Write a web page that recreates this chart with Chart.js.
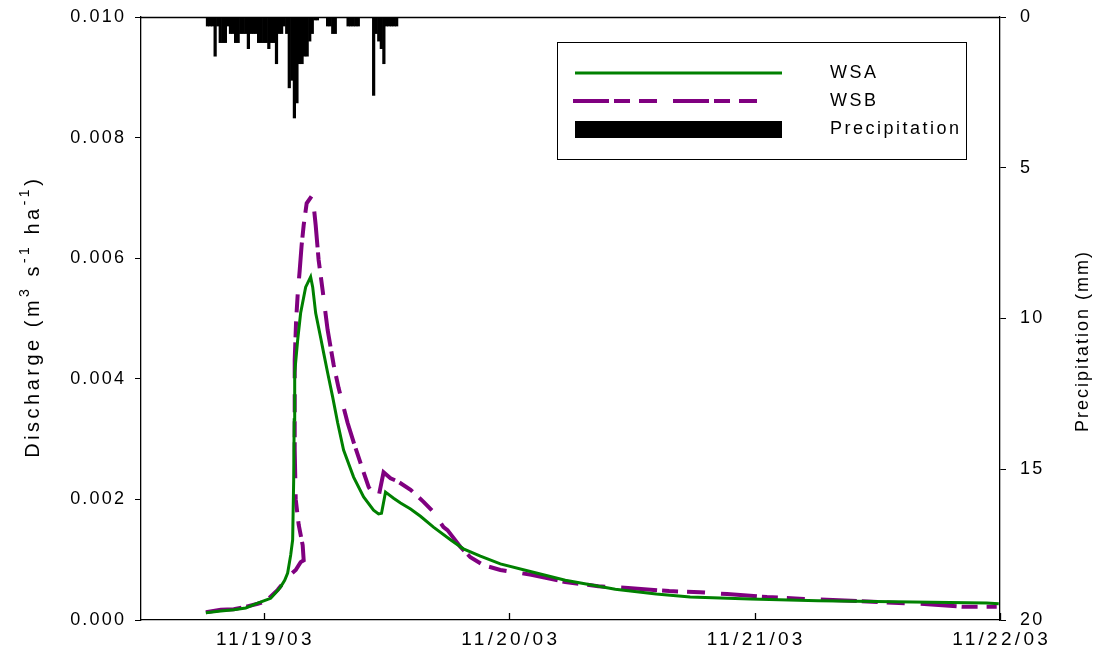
<!DOCTYPE html>
<html>
<head>
<meta charset="utf-8">
<script src="https://cdn.jsdelivr.net/npm/chart.js@4.4.0/dist/chart.umd.min.js"></script>
<style>
  html, body { margin: 0; padding: 0; background: #fff; }
  #wrap { width: 1106px; height: 661px; }
</style>
</head>
<body>
<div id="wrap"><canvas id="c" width="1106" height="661"></canvas></div>
<script>
// Time is in hours relative to 11/19/03 00:00.
const tickHours = [0, 24, 48, 72];
const tickLabels = ['11/19/03', '11/20/03', '11/21/03', '11/22/03'];

// Discharge, WSA (m3 s-1 ha-1)
const wsaHours = [-5.66, -4.2, -2.93, -1.76, -0.59, 0.2, 0.68, 1.17, 1.66, 2.05, 2.34, 2.64, 2.83, 2.93, 2.98,
  3.03, 3.32, 3.61, 4.1, 4.59, 4.79, 5.08, 5.57, 5.86, 6.25, 6.74, 7.23, 7.81, 8.79, 9.77, 10.74, 11.23, 11.52,
  11.91, 12.7, 13.38, 14.36, 15.33, 16.6, 18.26, 19.53, 21.19, 23.14, 26.17, 29.49, 34.38, 38.38, 41.7, 47.56,
  54.2, 63.48, 70.7, 71.88];
const wsaQ = [0.00012, 0.00015, 0.00017, 0.0002, 0.00028, 0.00033, 0.00036, 0.00045, 0.00055, 0.00066, 0.00078,
  0.00108, 0.00133, 0.00232, 0.00332, 0.0041, 0.00464, 0.00509, 0.00552, 0.00569, 0.00552, 0.00509, 0.00468,
  0.00443, 0.0041, 0.0037, 0.00327, 0.00282, 0.00237, 0.00204, 0.00182, 0.00176, 0.00177, 0.00212, 0.00202,
  0.00194, 0.00184, 0.00172, 0.00154, 0.00133, 0.00118, 0.00106, 0.00093, 0.0008, 0.00066, 0.00051, 0.00043,
  0.00038, 0.00035, 0.00032, 0.0003, 0.00028, 0.00027];

// Discharge, WSB (m3 s-1 ha-1)
const wsbHours = [-5.66, -4.2, -2.93, -1.76, -0.59, 0.2, 1.37, 2.34, 3.13, 3.61, 3.91, 3.81, 3.42, 3.13, 3.03,
  3.03, 3.03, 3.17, 3.32, 3.52, 3.71, 3.91, 4.2, 4.69, 4.88, 5.08, 5.37, 5.76, 6.25, 6.84, 7.32, 8.2, 8.79, 9.47,
  10.25, 10.74, 11.23, 11.72, 12.4, 13.09, 14.36, 15.63, 16.6, 17.58, 17.97, 19.24, 20.21, 21.48, 23.14, 26.17,
  29.49, 32.71, 35.64, 39.65, 42.68, 45.31, 49.22, 52.83, 57.42, 62.11, 64.06, 68.36, 71.68];
const wsbQ = [0.00013, 0.00017, 0.00018, 0.00022, 0.00027, 0.00031, 0.0005, 0.00071, 0.00083, 0.00096, 0.00099,
  0.00124, 0.00158, 0.002, 0.00282, 0.00365, 0.00431, 0.00497, 0.00539, 0.0058, 0.00622, 0.00655, 0.00691,
  0.00703, 0.00688, 0.00655, 0.00597, 0.00547, 0.00481, 0.00423, 0.00385, 0.00327, 0.00295, 0.0026, 0.00221,
  0.00207, 0.00204, 0.00245, 0.00235, 0.0023, 0.00216, 0.00196, 0.00179, 0.00154, 0.00149, 0.00121, 0.00104,
  0.00091, 0.00083, 0.00075, 0.00063, 0.00056, 0.00053, 0.00048, 0.00046, 0.00043, 0.00038, 0.00035, 0.00032,
  0.00028, 0.00027, 0.00022, 0.00022];

// Precipitation (mm per 15 min), first interval centred at 11/18/03 18:30
const precipStartHour = -5.5;
const precipStepHours = 0.25;
const precipMm = [0.3, 0.3, 0.3, 1.3, 0.3, 0.85, 0.85, 0.85, 0.3, 0.55, 0.55, 0.85, 0.85, 0.55, 0.55, 0.55,
  1.05, 0.55, 0.55, 0.55, 0.85, 0.85, 0.85, 0.85, 1.05, 0.85, 0.85, 1.55, 0.55, 0.55, 0.3, 0.55, 2.35, 2.1, 3.35,
  2.85, 1.55, 1.55, 1.3, 1.3, 0.8, 0.55, 0.1, 0.1, 0, 0, 0, 0.3, 0.3, 0.55, 0.55, 0, 0, 0, 0, 0.3, 0.3, 0.3,
  0.3, 0.3, 0, 0, 0, 0, 0, 2.6, 0.55, 0.8, 1.05, 1.55, 0.3, 0.3, 0.3, 0.3, 0.3];

// Axis title pieces: [text, superscript?]
const leftTitle = [['Discharge (m', false], ['3', true], [' s', false], ['-1', true], [' ha', false], ['-1', true], [')', false]];
const rightTitle = [['Precipitation (mm)', false]];

const GREEN = 'rgb(0,128,0)';
const PURPLE = 'rgb(128,0,128)';
const FONT = '"Liberation Sans", Arial, sans-serif';
const DASH = [36, 5, 16, 9, 18, 16];

const pairs = (xs, ys) => xs.map((x, i) => ({ x: x, y: ys[i] }));
const precipData = precipMm.map((v, i) => ({ x: precipStartHour + i * precipStepHours, y: v }));

// Draw a string with open letter spacing; align is 'left', 'right' or 'center'
function spacedText(ctx, text, x, y, size, spacing, align) {
  ctx.font = size + 'px ' + FONT;
  ctx.letterSpacing = spacing + 'px';
  const w = ctx.measureText(text).width - spacing;
  let x0 = x;
  if (align === 'right') x0 = x - w;
  else if (align === 'center') x0 = x - w / 2;
  ctx.textAlign = 'left';
  ctx.fillText(text, x0, y);
  ctx.letterSpacing = '0px';
}

// Rotated (bottom-to-top) title built from normal and superscript pieces
function verticalTitle(ctx, pieces, cx, cy, size, supSize, spacing) {
  ctx.save();
  ctx.translate(cx, cy);
  ctx.rotate(-Math.PI / 2);
  ctx.textBaseline = 'middle';
  ctx.textAlign = 'left';
  ctx.letterSpacing = spacing + 'px';
  const widths = pieces.map(([t, sup]) => {
    ctx.font = (sup ? supSize : size) + 'px ' + FONT;
    return ctx.measureText(t).width;
  });
  const total = widths.reduce((a, b) => a + b, 0) - spacing;
  let x = -total / 2;
  pieces.forEach(([t, sup], i) => {
    ctx.font = (sup ? supSize : size) + 'px ' + FONT;
    ctx.fillText(t, x, sup ? -size * 0.38 : 0);
    x += widths[i];
  });
  ctx.restore();
}

// Box around the plot area, inward time ticks and all axis text
const axesPlugin = {
  id: 'axesText',
  afterDraw(chart) {
    const { ctx, chartArea: a, scales } = chart;
    ctx.save();
    ctx.strokeStyle = '#000';
    ctx.lineWidth = 1.3;
    ctx.beginPath();
    ctx.moveTo(a.left, a.top + 0.5);
    ctx.lineTo(a.right, a.top + 0.5);
    scales.x.ticks.forEach(t => {
      const px = Math.round(scales.x.getPixelForValue(t.value)) + 0.5;
      ctx.moveTo(px, a.bottom);
      ctx.lineTo(px, a.bottom - 7);
    });
    ctx.stroke();

    ctx.fillStyle = '#000';
    ctx.textBaseline = 'middle';
    scales.y.ticks.forEach(t => {
      spacedText(ctx, t.value.toFixed(3), 124, scales.y.getPixelForValue(t.value), 18, 2.2, 'right');
    });
    scales.y1.ticks.forEach(t => {
      spacedText(ctx, String(t.value), 1020, scales.y1.getPixelForValue(t.value), 18, 2.2, 'left');
    });
    scales.x.ticks.forEach(t => {
      const label = tickLabels[tickHours.indexOf(t.value)];
      spacedText(ctx, label, scales.x.getPixelForValue(t.value), 640, 19, 3.3, 'center');
    });
    verticalTitle(ctx, leftTitle, 33, (a.top + a.bottom) / 2, 20, 14, 3.5);
    verticalTitle(ctx, rightTitle, 1083, 342, 18, 13, 2);
    ctx.restore();
  }
};

// Framed legend in the upper right of the plot
const legendBoxPlugin = {
  id: 'legendBox',
  afterDraw(chart) {
    const ctx = chart.ctx;
    const ds = chart.data.datasets;
    ctx.save();
    ctx.strokeStyle = '#000';
    ctx.lineWidth = 1;
    ctx.strokeRect(557.5, 42.5, 409, 117);
    const rows = [73, 101, 129];
    const x0 = 575, x1 = 782;
    // WSA
    ctx.strokeStyle = ds[0].borderColor;
    ctx.lineWidth = ds[0].borderWidth;
    ctx.beginPath(); ctx.moveTo(x0, rows[0]); ctx.lineTo(x1, rows[0]); ctx.stroke();
    // WSB
    ctx.strokeStyle = ds[1].borderColor;
    ctx.lineWidth = ds[1].borderWidth;
    ctx.setLineDash(ds[1].borderDash);
    ctx.beginPath(); ctx.moveTo(x0 - 2, rows[1]); ctx.lineTo(763, rows[1]); ctx.stroke();
    ctx.setLineDash([]);
    // Precipitation
    ctx.fillStyle = ds[2].backgroundColor;
    ctx.fillRect(x0, rows[2] - 8, x1 - x0, 17);
    ctx.fillStyle = '#000';
    ctx.textBaseline = 'middle';
    ds.forEach((d, i) => spacedText(ctx, d.label, 830, rows[i], 18, 2.5, 'left'));
    ctx.restore();
  }
};

const zeroPad = (s) => { s.paddingTop = 0; s.paddingBottom = 0; s.paddingLeft = 0; s.paddingRight = 0; };

new Chart(document.getElementById('c'), {
  data: {
    datasets: [
      {
        type: 'line', label: 'WSA', data: pairs(wsaHours, wsaQ), yAxisID: 'y',
        borderColor: GREEN, borderWidth: 3, pointRadius: 0, tension: 0, fill: false
      },
      {
        type: 'line', label: 'WSB', data: pairs(wsbHours, wsbQ), yAxisID: 'y',
        borderColor: PURPLE, borderWidth: 4, borderDash: DASH, pointRadius: 0, tension: 0, fill: false
      },
      {
        type: 'bar', label: 'Precipitation', data: precipData, yAxisID: 'y1',
        backgroundColor: '#000', borderWidth: 0, barPercentage: 1, categoryPercentage: 1
      }
    ]
  },
  options: {
    responsive: false,
    animation: false,
    devicePixelRatio: 1,
    layout: { padding: { top: 17, left: 0, right: 0, bottom: 0 } },
    plugins: { legend: { display: false }, tooltip: { enabled: false } },
    scales: {
      x: {
        type: 'linear', min: -12, max: 72, offset: false,
        afterFit(s) { s.height = 41; zeroPad(s); },
        afterBuildTicks(s) { s.ticks = tickHours.map(v => ({ value: v })); },
        grid: { display: false, drawTicks: false, offset: false },
        border: { display: true, color: '#000', width: 1.3 },
        ticks: { display: false }
      },
      y: {
        position: 'left', min: 0, max: 0.010,
        afterFit(s) { s.width = 141; zeroPad(s); },
        grid: { drawOnChartArea: false, tickLength: 6, color: '#000' },
        border: { display: true, color: '#000', width: 1.3 },
        ticks: { display: false, stepSize: 0.002 }
      },
      y1: {
        position: 'right', min: 0, max: 20, reverse: true,
        afterFit(s) { s.width = 106; zeroPad(s); },
        grid: { drawOnChartArea: false, tickLength: 6, color: '#000' },
        border: { display: true, color: '#000', width: 1.3 },
        ticks: { display: false, stepSize: 5 }
      }
    }
  },
  plugins: [axesPlugin, legendBoxPlugin]
});
</script>
</body>
</html>
